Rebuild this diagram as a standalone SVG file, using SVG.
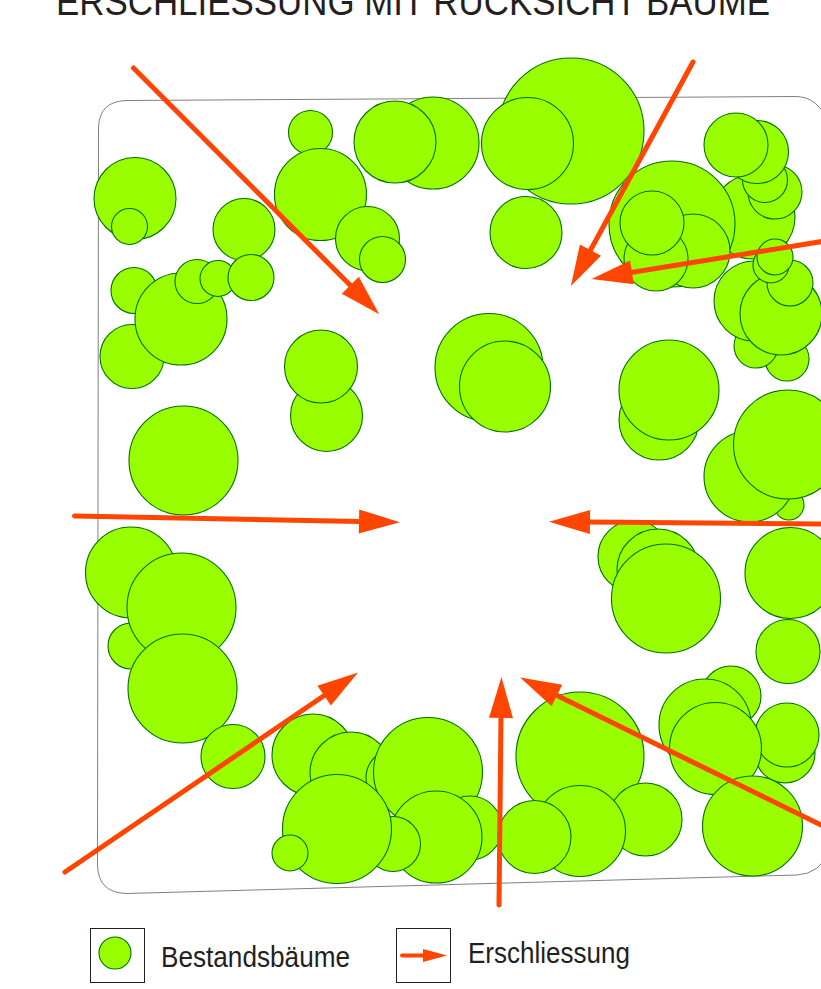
<svg xmlns="http://www.w3.org/2000/svg" width="821" height="989" viewBox="0 0 821 989">
<style>
text{font-family:"Liberation Sans",Arial,sans-serif;fill:#231f20}
circle{fill:#99ff00;stroke:#007000;stroke-width:1.1}
.box{fill:none;stroke:#231f20;stroke-width:1}
.c{fill:none;stroke:#ff4500;stroke-width:5;stroke-linecap:round}
.s{fill:none;stroke:#ff4500;stroke-width:4;stroke-linecap:round}
</style>
<defs>
<marker id="h" markerUnits="userSpaceOnUse" markerWidth="42" markerHeight="26" refX="1" refY="13" orient="auto" overflow="visible"><path d="M0 1L41 13L0 25Z" fill="#ff4500"/></marker>
<marker id="hs" markerUnits="userSpaceOnUse" markerWidth="25" markerHeight="14" refX="1" refY="7" orient="auto" overflow="visible"><path d="M0 0.500L24 7L0 13.500Z" fill="#ff4500"/></marker>
</defs>
<text id="title" x="56" y="15" font-size="38" textLength="714" lengthAdjust="spacingAndGlyphs">ERSCHLIESSUNG MIT RÜCKSICHT BÄUME</text>
<path id="site" d="M127 100.500L795 96.500Q818 96 830 125L830 850Q820 874 797 875L127 893.500Q98 893 97.500 865L98.500 128Q99 101 127 100.500Z" fill="none" stroke="#808080" stroke-width="1"/>
<g id="trees">
<g id="t1"><circle cx="571" cy="131" r="73"/></g>
<g id="t2"><circle cx="527.500" cy="143.500" r="46"/></g>
<g id="t3"><circle cx="433" cy="143" r="46"/></g>
<g id="t4"><circle cx="395" cy="142" r="41"/></g>
<g id="t5"><circle cx="310.500" cy="132.500" r="22"/></g>
<g id="t6"><circle cx="320.500" cy="194.500" r="46"/></g>
<g id="t7"><circle cx="367.500" cy="238.500" r="32"/></g>
<g id="t8"><circle cx="382.500" cy="259.500" r="23"/></g>
<g id="t9"><circle cx="526" cy="232.500" r="36"/></g>
<g id="t10"><circle cx="135" cy="198.500" r="41"/></g>
<g id="t11"><circle cx="129.500" cy="226.500" r="18"/></g>
<g id="t12"><circle cx="244" cy="229.500" r="31"/></g>
<g id="t13"><circle cx="134" cy="290.500" r="23"/></g>
<g id="t14"><circle cx="132" cy="356.500" r="32"/></g>
<g id="t15"><circle cx="181" cy="319" r="46"/></g>
<g id="t16"><circle cx="197" cy="281.500" r="22"/></g>
<g id="t17"><circle cx="218" cy="278.500" r="18"/></g>
<g id="t18"><circle cx="251" cy="277.500" r="23"/></g>
<g id="t19"><circle cx="326.500" cy="415.500" r="36"/></g>
<g id="t20"><circle cx="321" cy="366.500" r="36.500"/></g>
<g id="t21"><circle cx="489" cy="367.500" r="54"/></g>
<g id="t22"><circle cx="505" cy="386.500" r="45.500"/></g>
<g id="t23"><circle cx="659" cy="420" r="40"/></g>
<g id="t24"><circle cx="669" cy="390" r="50"/></g>
<g id="t25"><circle cx="183.500" cy="460.500" r="54.500"/></g>
<g id="t26"><circle cx="753" cy="217" r="42"/></g>
<g id="t27"><circle cx="775" cy="192" r="27"/></g>
<g id="t28"><circle cx="765" cy="180" r="22.500"/></g>
<g id="t29"><circle cx="757" cy="152" r="31.500"/></g>
<g id="t30"><circle cx="736" cy="145" r="32"/></g>
<g id="t31"><circle cx="672" cy="224" r="63"/></g>
<g id="t32"><circle cx="693" cy="251" r="37"/></g>
<g id="t33"><circle cx="656" cy="259" r="32"/></g>
<g id="t34"><circle cx="652" cy="223" r="32"/></g>
<g id="t35"><circle cx="787" cy="359" r="22"/></g>
<g id="t36"><circle cx="756" cy="346" r="22"/></g>
<g id="t37"><circle cx="754" cy="301" r="40"/></g>
<g id="t40"><circle cx="781" cy="314" r="41"/></g>
<g id="t41"><circle cx="790" cy="283" r="23"/></g>
<g id="t38"><circle cx="771" cy="265" r="18"/></g>
<g id="t39"><circle cx="775" cy="257" r="18"/></g>
<g id="t42"><circle cx="789" cy="505" r="15"/></g>
<g id="t43"><circle cx="749.500" cy="476.500" r="45.500"/></g>
<g id="t44"><circle cx="788" cy="444.500" r="54.500"/></g>
<g id="t45"><circle cx="634" cy="556.500" r="36"/></g>
<g id="t46"><circle cx="658" cy="570" r="41"/></g>
<g id="t47"><circle cx="666" cy="598.500" r="54.500"/></g>
<g id="t48"><circle cx="790.500" cy="573" r="45.500"/></g>
<g id="t49"><circle cx="788" cy="651.500" r="32"/></g>
<g id="t50"><circle cx="131" cy="572.500" r="45.500"/></g>
<g id="t51"><circle cx="131" cy="646" r="23"/></g>
<g id="t52"><circle cx="181.500" cy="607.500" r="54.500"/></g>
<g id="t53"><circle cx="182.500" cy="688.500" r="54.500"/></g>
<g id="t54"><circle cx="233" cy="756.500" r="32"/></g>
<g id="t55"><circle cx="313" cy="755" r="41"/></g>
<g id="t56"><circle cx="351" cy="773" r="41"/></g>
<g id="t57"><circle cx="395" cy="778" r="29"/></g>
<g id="t58"><circle cx="428" cy="772" r="54.500"/></g>
<g id="t59"><circle cx="470" cy="828" r="32"/></g>
<g id="t61"><circle cx="436" cy="837" r="46"/></g>
<g id="t60"><circle cx="393" cy="844" r="27.500"/></g>
<g id="t62"><circle cx="337" cy="829" r="54.500"/></g>
<g id="t63"><circle cx="290" cy="853" r="18"/></g>
<g id="t64"><circle cx="580" cy="756" r="64"/></g>
<g id="t65"><circle cx="645.500" cy="819.500" r="36.500"/></g>
<g id="t66"><circle cx="580" cy="831" r="45.500"/></g>
<g id="t67"><circle cx="534.500" cy="837" r="36.500"/></g>
<g id="t68"><circle cx="731" cy="696" r="30"/></g>
<g id="t69"><circle cx="705" cy="725" r="46"/></g>
<g id="t70"><circle cx="785" cy="753" r="30"/></g>
<g id="t71"><circle cx="787" cy="735" r="32"/></g>
<g id="t72"><circle cx="715.500" cy="748.500" r="46"/></g>
<g id="t73"><circle cx="752.500" cy="826" r="50"/></g>
</g>
<g id="connectors">
<line class="c" x1="133.500" y1="68" x2="351" y2="286" marker-end="url(#h)"/>
<line class="c" x1="693" y1="62" x2="590" y2="251" marker-end="url(#h)"/>
<line class="c" x1="825" y1="241" x2="631" y2="272.500" marker-end="url(#h)"/>
<line class="c" x1="74.500" y1="516" x2="360" y2="521.500" marker-end="url(#h)"/>
<line class="c" x1="825" y1="524" x2="589" y2="522" marker-end="url(#h)"/>
<line class="c" x1="65" y1="872" x2="325" y2="695" marker-end="url(#h)"/>
<line class="c" x1="499" y1="905" x2="501" y2="717" marker-end="url(#h)"/>
<line class="c" x1="825" y1="827" x2="556" y2="695" marker-end="url(#h)"/>
</g>
<g id="legend-trees">
<rect class="box" x="90.500" y="928.500" width="54" height="54"/>
<circle cx="115" cy="953" r="16"/>
<text x="161" y="967" font-size="30" textLength="189" lengthAdjust="spacingAndGlyphs">Bestandsbäume</text>
</g>
<g id="legend-access">
<rect class="box" x="396.500" y="928.500" width="54" height="54"/>
<line class="s" x1="402" y1="955.500" x2="424" y2="955.500" marker-end="url(#hs)"/>
<text x="468" y="963" font-size="30" textLength="162" lengthAdjust="spacingAndGlyphs">Erschliessung</text>
</g>
</svg>
